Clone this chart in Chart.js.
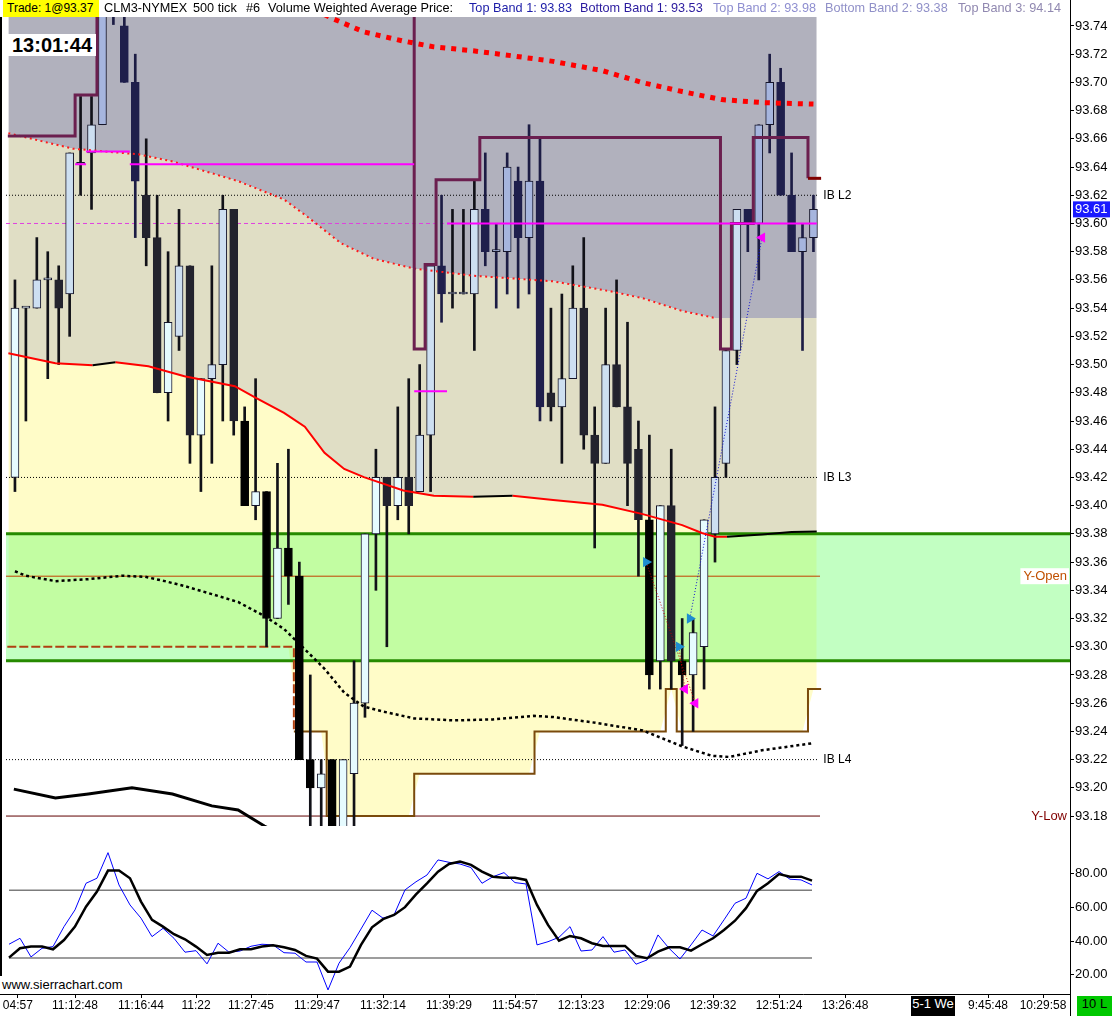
<!DOCTYPE html>
<html><head><meta charset="utf-8"><title>CLM3-NYMEX 500 tick</title>
<script src="https://cdn.jsdelivr.net/npm/chart.js@4.4.1/dist/chart.umd.min.js"></script>
<style>
html,body{margin:0;padding:0;background:#fff;}
#wrap{position:relative;width:1112px;height:1016px;overflow:hidden;background:#fff;}
canvas{position:absolute;left:0;}
#cA{top:0;width:1112px;height:832px;}
#cB{top:830px;width:1112px;height:186px;}
.t{position:absolute;top:0;white-space:pre;font:12.7px 'Liberation Sans',Arial,sans-serif;line-height:17px;color:#000;}
#clock{position:absolute;left:8px;top:34px;width:88px;height:22px;background:#fff;font:bold 20px 'Liberation Sans',Arial,sans-serif;line-height:22px;text-align:center;color:#000;}
#site{position:absolute;left:0;top:976px;width:124px;height:17px;background:#fff;font:13px 'Liberation Sans',Arial,sans-serif;line-height:17px;padding-left:2px;color:#000;}
.box{position:absolute;top:996px;height:20px;line-height:20px;text-align:center;font:13px 'Liberation Sans',Arial,sans-serif;}
.vline{position:absolute;background:#000;}
</style></head><body><div id="wrap">
<canvas id="cA" width="1112" height="832"></canvas>
<canvas id="cB" width="1112" height="186"></canvas>
<div class="vline" style="left:1070px;top:0;width:1px;height:1016px"></div>
<div class="vline" style="left:0;top:17px;width:2px;height:960px"></div>
<div class="t" style="left:3px;width:96px;height:17px;background:#ffff00;padding-left:4px;box-sizing:border-box;font-size:12px">Trade: 1@93.37</div>
<div class="t" style="left:104px">CLM3-NYMEX</div>
<div class="t" style="left:193px">500 tick</div>
<div class="t" style="left:246px">#6</div>
<div class="t" style="left:268px">Volume Weighted Average Price:</div>
<div class="t" style="left:469px;color:#1c1ca8">Top Band 1: 93.83</div>
<div class="t" style="left:580px;color:#2a1a9e">Bottom Band 1: 93.53</div>
<div class="t" style="left:713px;color:#8e8ed0">Top Band 2: 93.98</div>
<div class="t" style="left:825px;color:#9090c8">Bottom Band 2: 93.38</div>
<div class="t" style="left:958px;color:#9088b0">Top Band 3: 94.14</div>
<div id="clock">13:01:44</div>
<div id="site">www.sierrachart.com</div>
<div class="box" style="left:911px;width:44px;background:#000;color:#fff">5-1 We</div>
<div class="box" style="left:1077px;width:35px;background:#00c800;color:#000">10 L</div>
</div>
<script>
// ---------------- DATA ----------------
const timeTickValues = [0.8, 6, 12, 17, 22, 28, 34, 40, 46, 52, 58, 64, 70, 76, 89, 94];
const timeTickLabels = ['04:57','11:12:48','11:16:44','11:22','11:27:45','11:29:47','11:32:14','11:39:29','11:54:57','12:13:23','12:29:06','12:39:32','12:51:24','13:26:48','9:45:48','10:29:58'];
const priceTicks = [93.18,93.20,93.22,93.24,93.26,93.28,93.30,93.32,93.34,93.36,93.38,93.40,93.42,93.44,93.46,93.48,93.50,93.52,93.54,93.56,93.58,93.60,93.62,93.64,93.66,93.68,93.70,93.72,93.74];
const oscTicks = [20, 40, 60, 80];

const opens  = [93.42,93.54,93.54,93.56,93.56,93.55,93.642,93.65,93.67,93.78,93.74,93.70,93.62,93.59,93.48,93.52,93.57,93.45,93.49,93.50,93.61,93.46,93.40,93.41,93.32,93.37,93.35,93.22,93.20,93.22,93.16,93.21,93.26,93.38,93.42,93.40,93.42,93.41,93.45,93.57,93.55,93.55,93.55,93.61,93.58,93.58,93.63,93.59,93.63,93.48,93.47,93.49,93.54,93.45,93.43,93.50,93.47,93.44,93.39,93.29,93.40,93.29,93.28,93.30,93.38,93.43,93.51,93.61,93.60,93.67,93.70,93.62,93.58,93.59];
const highs  = [93.56,93.54,93.59,93.58,93.57,93.65,93.69,93.69,93.78,93.80,93.76,93.72,93.66,93.62,93.58,93.61,93.57,93.49,93.57,93.62,93.61,93.47,93.49,93.41,93.43,93.44,93.36,93.28,93.22,93.22,93.22,93.29,93.38,93.44,93.42,93.47,93.49,93.50,93.57,93.62,93.61,93.61,93.63,93.65,93.60,93.65,93.64,93.67,93.66,93.54,93.55,93.57,93.59,93.47,93.54,93.56,93.53,93.46,93.45,93.40,93.44,93.32,93.32,93.39,93.47,93.51,93.61,93.61,93.67,93.72,93.71,93.65,93.60,93.62];
const lows   = [93.41,93.46,93.54,93.49,93.50,93.52,93.62,93.61,93.67,93.741,93.70,93.59,93.57,93.48,93.46,93.51,93.43,93.41,93.43,93.46,93.45,93.40,93.39,93.30,93.32,93.33,93.22,93.17,93.17,93.15,93.15,93.17,93.25,93.34,93.30,93.39,93.38,93.41,93.41,93.53,93.54,93.55,93.51,93.57,93.54,93.55,93.54,93.55,93.46,93.46,93.43,93.49,93.44,93.37,93.43,93.47,93.40,93.35,93.27,93.27,93.27,93.23,93.24,93.27,93.36,93.42,93.50,93.58,93.56,93.65,93.62,93.58,93.51,93.58];
const closes = [93.54,93.54,93.56,93.56,93.54,93.65,93.642,93.67,93.76,93.77,93.70,93.63,93.59,93.48,93.53,93.57,93.45,93.49,93.50,93.61,93.46,93.40,93.41,93.32,93.37,93.35,93.22,93.20,93.21,93.16,93.22,93.26,93.38,93.42,93.40,93.42,93.40,93.45,93.57,93.55,93.55,93.55,93.61,93.58,93.58,93.64,93.59,93.63,93.47,93.47,93.49,93.54,93.45,93.43,93.50,93.47,93.43,93.39,93.28,93.40,93.29,93.28,93.31,93.39,93.42,93.51,93.61,93.60,93.67,93.70,93.62,93.58,93.59,93.61];

// VWAP and bands (bar position, price)
const vwapX = [26.5, 28.9, 31.9, 35.5, 38.3, 41.9, 45.5, 49.2, 53.7, 57.4, 61, 64.6, 68.3, 73];
const vwapY = [93.755, 93.7457, 93.7358, 93.7293, 93.7252, 93.7224, 93.7188, 93.7149, 93.7083, 93.6998, 93.6935, 93.6878, 93.6857, 93.6846];
const bb1X = [-0.6, 5.3, 11.3, 14.4, 20.4, 24.6, 26.7, 29.8, 32.8, 36.5, 41.9, 49.2, 54.4, 57.4, 61, 64, 73.3];
const bb1Y = [93.664, 93.653, 93.649, 93.644, 93.630, 93.617, 93.605, 93.586, 93.575, 93.568, 93.563, 93.559, 93.552, 93.547, 93.538, 93.533, 93.533];
const bb2X = [-0.6, 3.7, 7.1, 9.2, 12.2, 15.5, 20.1, 21.9, 24.6, 26.5, 28.3, 30.1, 31.9, 35.5, 38.3, 41.9, 45.5, 49.2, 53.7, 57.4, 61, 62.8, 64, 65.1, 68.3, 71, 73.3];
const bb2Y = [93.508, 93.501, 93.4995, 93.5016, 93.4988, 93.4917, 93.4847, 93.477, 93.4657, 93.456, 93.4375, 93.426, 93.4202, 93.4107, 93.407, 93.4064, 93.407, 93.404, 93.4007, 93.394, 93.3862, 93.3806, 93.378, 93.378, 93.3796, 93.3813, 93.3817];
const bb3X = [0, 1, 3.7, 6.7, 9.8, 11.9, 13.7, 15.5, 18, 20.4, 22.8, 24.6, 26.5, 28.3, 30.1, 31.9, 33.7, 36.5, 40.1, 43.7, 47.4, 49.2, 52.8, 57.4, 59.2, 61, 63.7, 65.3, 68.3, 72.8];
const bb3Y = [93.3535, 93.3503, 93.3465, 93.3479, 93.3503, 93.3496, 93.3465, 93.343, 93.3373, 93.3317, 93.3218, 93.3126, 93.2982, 93.2844, 93.2675, 93.2576, 93.254, 93.2492, 93.2478, 93.2485, 93.251, 93.2502, 93.2464, 93.2407, 93.235, 93.2294, 93.2227, 93.2219, 93.2266, 93.2315];
const bb4X = [-0.1, 3.7, 6.7, 10.7, 14.4, 18, 20.4, 22.8, 24.6];
const bb4Y = [93.1991, 93.1928, 93.1956, 93.2, 93.1956, 93.1872, 93.1843, 93.173, 93.165];

// stepped studies: value starts at the given bar position
const brownX = [-0.7, 25.5, 28.5, 36.5, 47.5, 59.5, 60.5, 72.5, 73.7];
const brownY = [93.30, 93.24, 93.18, 93.21, 93.24, 93.27, 93.24, 93.27, 93.27];
const maroonX = [-0.65, 5.5, 7.5, 36.5, 37.5, 38.5, 42.5, 64.5, 65.5, 67.5, 72.5, 73.7];
const maroonY = [93.662, 93.691, 93.80, 93.511, 93.571, 93.631, 93.661, 93.511, 93.60, 93.661, 93.632, 93.632];
const pocX = [5.5, 6.5, 10.5, 36.5, 39.5, 73.3];
const pocY = [93.642, 93.651, 93.642, 93.481, 93.60, 93.60];

const zoneTop = 93.38, zoneBottom = 93.29;
const levelNames = ['IB L2', 'IB L3', 'IB L4'];
const levelValues = [93.62, 93.42, 93.22];
const refNames = ['Y-Open', 'Y-Low'];
const refValues = [93.35, 93.18];
const pocDashValue = 93.60;

const tradeEntryX = [57.7, 60.7, 61.7];
const tradeEntryY = [93.36, 93.30, 93.32];
const tradeExitX  = [62.2, 61.25, 68.3];
const tradeExitY  = [93.26, 93.27, 93.59];
const tradeSide   = ['S', 'S', 'L'];

const oscK = [38.1,41.6,30.6,35.7,36.7,48.5,58.4,74.1,77.1,92.2,73.1,61.3,53.5,42.6,47.5,41.6,33.4,34.3,26.5,38.7,33.4,34.1,36.9,38.1,37.7,33.1,32.8,27.6,27.6,11.1,26.9,36.1,47.1,58.2,53.5,55.4,70.2,75,79.0,87.9,86.5,85.5,83.4,74.1,78.0,80.4,74.5,73.7,37.7,39.6,42.2,48.5,34.1,34.7,42.6,33.4,34.7,26.3,28.8,43.6,35.7,29.4,37.7,46.5,43.0,52.5,62.3,65.3,80.0,76.7,81.0,76.5,76.1,73.1];
const oscD = [30.2,35.7,36.7,36.7,35.1,40.6,48.5,60.3,69.2,81.6,81.6,77.1,63.3,52.5,48.5,44.0,41.0,36.7,31.8,33.1,33.1,35.1,35.1,36.7,37.5,36.3,34.7,31.2,29.6,21.9,21.9,24.9,37.7,48.1,52.9,55.4,60.0,67.5,74.1,81.0,85.5,86.9,85.0,81.0,78.0,77.4,77.4,76.1,61.3,49.5,40.2,43.0,41.6,38.7,37.1,37.1,37.1,31.2,29.8,33.7,36.3,36.3,34.3,38.1,41.6,46.5,52.0,59.4,69.6,74.1,79.5,78.0,78.0,75.7];
const oscLevels = [70, 30];

// ---------------- LAYOUT CONSTANTS ----------------
const X_MIN = -9 / 11, X_MAX = X_MIN + 1070 / 11;
const Y_MIN = 93.18 - 10 / 1418, Y_MAX = 93.74 + 9 / 1418;
const O_MIN = 8.7, O_MAX = 104.4;
const LINE_END = 73.5;
const LABEL_X = 73.9;

function fontOK(name) {
  const c = document.createElement('canvas').getContext('2d');
  const s = '11:12:48 IB L2 mmmWWiil';
  c.font = '40px monospace'; const a = c.measureText(s).width;
  c.font = "40px '" + name + "', monospace"; return Math.abs(c.measureText(s).width - a) > 0.5;
}
const HAS_NARROW = fontOK('Liberation Sans Narrow');
const timeFont = HAS_NARROW ? { family: "'Liberation Sans Narrow'", size: 15 } : { family: "'Liberation Sans', Arial", size: 12 };
const axisFont = { family: "'Liberation Sans', Arial, sans-serif", size: 13 };

Chart.defaults.font.family = "'Liberation Sans', Arial, sans-serif";
Chart.defaults.font.size = 12;
Chart.defaults.color = '#000';

const idx = opens.map((_, i) => i);
const pts = (xs, ys) => xs.map((x, i) => ({ x, y: ys[i] }));
function interp(xs, ys, x) {
  if (x <= xs[0]) return ys[0];
  for (let k = 1; k < xs.length; k++) if (x <= xs[k]) return ys[k - 1] + (ys[k] - ys[k - 1]) * (x - xs[k - 1]) / (xs[k] - xs[k - 1]);
  return ys[ys.length - 1];
}
function stepAt(xs, ys, x) { let v = ys[0]; for (let k = 0; k < xs.length; k++) if (x >= xs[k]) v = ys[k]; return v; }
const flat = (v, a, b) => [{ x: a, y: v }, { x: b, y: v }];
// horizontal pieces only (no vertical connectors)
function pieces(xs, ys) {
  const out = [];
  for (let k = 0; k < xs.length - 1; k++) {
    out.push({ x: xs[k], y: ys[k] }, { x: xs[k + 1], y: ys[k] }, { x: xs[k + 1], y: null });
  }
  return out;
}

function isUp(i) { return closes[i] >= opens[i]; }
function bodyFill(c) {
  const i = c.dataIndex; if (i === undefined) return '#000';
  const o = opens[i], b1 = interp(bb1X, bb1Y, i), b2 = interp(bb2X, bb2Y, i);
  if (isUp(i)) return o >= b1 ? '#a6b5de' : (o >= b2 ? '#cddff1' : '#e6fbff');
  return o > b1 ? '#1f1f4c' : (o > b2 ? '#23232e' : '#000000');
}
function bodyBorder(c) {
  const i = c.dataIndex; if (i === undefined) return '#000';
  return isUp(i) ? '#15152a' : bodyFill(c);
}
function wickColor(c) {
  const i = c.dataIndex; if (i === undefined) return '#000';
  return opens[i] > interp(bb1X, bb1Y, i) ? '#1c1c44' : '#111118';
}

// ---------------- PRICE CHART ----------------
const dsA = [];
const add = d => { dsA.push(Object.assign({ type: 'line', pointRadius: 0, fill: false, tension: 0, clip: 0 }, d)); return dsA.length - 1; };

const iFill1 = add({ data: pts(bb1X, bb1Y), borderWidth: 0, fill: 'end', backgroundColor: '#b1b1bd', order: 100 });
const iFill2 = add({ data: pts(bb2X, bb2Y), borderWidth: 0, fill: { target: iFill1 }, backgroundColor: '#e0dec5', order: 99 });
const yellowEdge = [-0.6].concat(idx, [73.3]).map(x => ({ x, y: stepAt(brownX, brownY, Math.round(x)) }));
add({ data: yellowEdge, borderWidth: 0, fill: { target: iFill2 }, backgroundColor: '#fffcc8', order: 98 });

const iZoneTop = add({ data: flat(zoneTop, X_MIN, X_MAX), borderWidth: 3, borderColor: '#268a00', order: 90 });
add({ data: flat(zoneBottom, X_MIN, X_MAX), borderWidth: 3, borderColor: '#268a00', fill: { target: iZoneTop }, backgroundColor: 'rgba(110,255,110,0.42)', order: 91 });

levelValues.forEach(v => add({ data: flat(v, X_MIN, LINE_END), borderWidth: 1, borderColor: '#000', borderDash: [1, 2], order: 80 }));
add({ data: flat(refValues[0], X_MIN, 73.6), borderWidth: 1, borderColor: '#c24000', order: 80 });
add({ data: flat(refValues[1], X_MIN, 73.6), borderWidth: 1, borderColor: '#600000', order: 80 });
add({ data: flat(pocDashValue, X_MIN, 40), borderWidth: 1, borderColor: '#e040e0', borderDash: [4, 3], order: 80 });

add({ data: pts(brownX, brownY), stepped: 'before', borderWidth: 2, borderColor: '#7a4a0c',
      segment: { borderDash: c => c.p0.parsed.x < 25 ? [9, 3] : undefined, borderColor: c => c.p0.parsed.x < 25 ? '#b04010' : '#7a4a0c' }, order: 75 });

add({ type: 'bar', data: idx.map(i => ({ x: i, y: [lows[i], highs[i]] })), barThickness: 2, backgroundColor: wickColor,
      borderWidth: 0, grouped: false, order: 30 });
add({ type: 'bar', data: idx.map(i => ({ x: i, y: [opens[i], closes[i]] })), barThickness: 8, minBarLength: 2,
      backgroundColor: bodyFill, borderColor: bodyBorder, borderWidth: 1, borderSkipped: false, grouped: false, order: 29 });

add({ data: pts(bb4X, bb4Y), borderWidth: 3, borderColor: '#000', order: 20 });
add({ data: pts(bb3X, bb3Y), borderWidth: 2.5, borderColor: '#000', borderDash: [3, 3], order: 19 });
add({ data: pts(bb2X, bb2Y), borderWidth: 2, borderColor: '#ff0000',
      segment: { borderColor: c => c.p1.parsed.y > c.p0.parsed.y ? '#000' : '#ff0000' }, order: 18 });
add({ data: pts(bb1X.slice(0, -1), bb1Y.slice(0, -1)), borderWidth: 2, borderColor: '#ff1a1a', borderDash: [2, 3.5], order: 17 });
add({ data: pts(vwapX, vwapY), borderWidth: 5, borderColor: '#ff0000', borderDash: [5, 6], order: 16 });
add({ data: pts(maroonX, maroonY), stepped: 'before', borderWidth: 3, borderColor: '#6b1f4f',
      segment: { borderColor: c => c.p0.parsed.x >= 72.5 ? '#800000' : '#6b1f4f' }, order: 15 });
add({ data: pieces(pocX, pocY), spanGaps: false, borderWidth: 2, borderColor: '#ff00ff', order: 10 });

tradeEntryX.forEach((x, k) => add({ data: [{ x, y: tradeEntryY[k] }, { x: tradeExitX[k], y: tradeExitY[k] }],
  borderWidth: 1, borderColor: tradeSide[k] === 'L' ? '#1010d0' : '#c00000', borderDash: [1, 2], order: 5 }));
add({ data: pts(tradeEntryX, tradeEntryY), showLine: false, pointRadius: 6, pointStyle: 'triangle', rotation: 90,
      pointBackgroundColor: '#1e8ed0', pointBorderWidth: 0, order: 4 });
add({ data: pts(tradeExitX, tradeExitY), showLine: false, pointRadius: 6, pointStyle: 'triangle', rotation: -90,
      pointBackgroundColor: '#ff00ff', pointBorderWidth: 0, order: 4 });

const annot = {
  id: 'annot',
  afterDraw(chart) {
    const { ctx, chartArea } = chart; const x = chart.scales.x, y = chart.scales.y;
    ctx.save();
    ctx.textBaseline = 'middle';
    ctx.font = HAS_NARROW ? "14px 'Liberation Sans Narrow'" : "12px 'Liberation Sans', Arial";
    ctx.textAlign = 'left'; ctx.fillStyle = '#000';
    levelNames.forEach((n, k) => ctx.fillText(n, x.getPixelForValue(LABEL_X), y.getPixelForValue(levelValues[k])));
    ctx.font = "13px 'Liberation Sans', Arial";
    ctx.textAlign = 'right';
    const refColors = ['#c05000', '#800000'];
    refNames.forEach((n, k) => {
      const py = y.getPixelForValue(refValues[k]), px = chartArea.right - 3, w = ctx.measureText(n).width;
      if (k === 0) { ctx.fillStyle = '#fff'; ctx.fillRect(px - w - 3, py - 8, w + 5, 16); }
      ctx.fillStyle = refColors[k]; ctx.fillText(n, px, py);
    });
    const last = closes[closes.length - 1], py = y.getPixelForValue(last);
    ctx.fillStyle = '#1a1aff'; ctx.fillRect(chartArea.right + 3, py - 8, 37, 16);
    ctx.fillStyle = '#fff'; ctx.textAlign = 'left'; ctx.fillText(last.toFixed(2), chartArea.right + 5, py + 0.5);
    ctx.restore();
  }
};

const noPad = s => { s.paddingTop = 0; s.paddingBottom = 0; s.paddingLeft = 0; s.paddingRight = 0; };

new Chart(document.getElementById('cA'), {
  type: 'line',
  data: { datasets: dsA },
  options: {
    responsive: false, animation: false, events: [], devicePixelRatio: 1,
    layout: { padding: { top: 17, bottom: 2, left: 0, right: 0 } },
    plugins: { legend: { display: false }, tooltip: { enabled: false } },
    scales: {
      x: { type: 'linear', min: X_MIN, max: X_MAX, display: false, offset: false, grid: { offset: false } },
      y: { type: 'linear', position: 'right', min: Y_MIN, max: Y_MAX,
           afterBuildTicks: s => { s.ticks = priceTicks.map(v => ({ value: v })); },
           afterFit: s => { s.width = 42; noPad(s); },
           ticks: { callback: v => Number(v).toFixed(2), font: axisFont, color: '#000', padding: 1, autoSkip: false },
           grid: { drawOnChartArea: false, drawTicks: true, tickLength: 4, color: '#000' },
           border: { display: true, color: '#000' } }
    }
  },
  plugins: [annot]
});

// ---------------- OSCILLATOR ----------------
const dsB = [];
const addB = d => { dsB.push(Object.assign({ type: 'line', pointRadius: 0, fill: false, tension: 0, clip: 0 }, d)); return dsB.length - 1; };
oscLevels.forEach(v => addB({ data: flat(v, 0, 73), borderWidth: 1.5, borderColor: '#7c7c7c', order: 10 }));
addB({ data: idx.map(i => ({ x: i, y: oscK[i] })), borderWidth: 1, borderColor: '#0000ff', order: 5 });
addB({ data: idx.map(i => ({ x: i, y: oscD[i] })), borderWidth: 2.5, borderColor: '#000', order: 4 });

new Chart(document.getElementById('cB'), {
  type: 'line',
  data: { datasets: dsB },
  options: {
    responsive: false, animation: false, events: [], devicePixelRatio: 1,
    layout: { padding: { top: 2, bottom: 0, left: 0, right: 0 } },
    plugins: { legend: { display: false }, tooltip: { enabled: false } },
    scales: {
      x: { type: 'linear', min: X_MIN, max: X_MAX, position: 'bottom', offset: false,
           afterBuildTicks: s => { s.ticks = timeTickValues.map(v => ({ value: v })); },
           afterFit: s => { s.height = 22; noPad(s); },
           ticks: { callback: (v, i) => timeTickLabels[i], autoSkip: false, maxRotation: 0, minRotation: 0, font: timeFont, color: '#000', padding: 0 },
           grid: { drawOnChartArea: false, drawTicks: true, tickLength: 4, color: '#000' },
           border: { display: true, color: '#000' } },
      y: { type: 'linear', position: 'right', min: O_MIN, max: O_MAX,
           afterBuildTicks: s => { s.ticks = oscTicks.map(v => ({ value: v })); },
           afterFit: s => { s.width = 42; noPad(s); },
           ticks: { callback: v => Number(v).toFixed(2), font: axisFont, color: '#000', padding: 1, autoSkip: false },
           grid: { drawOnChartArea: false, drawTicks: true, tickLength: 4, color: '#000' },
           border: { display: true, color: '#000' } }
    }
  }
});
</script></body></html>
